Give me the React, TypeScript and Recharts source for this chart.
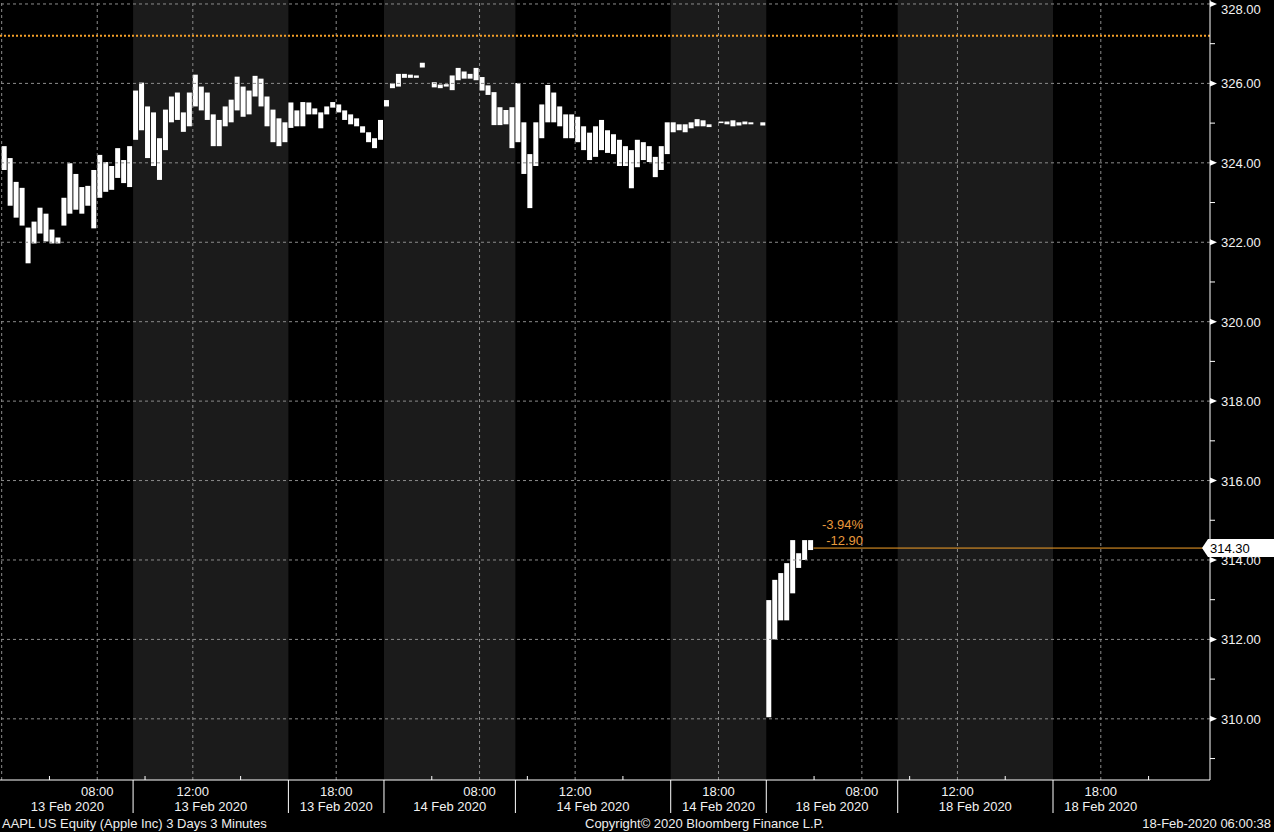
import { Bar, ComposedChart, ReferenceArea, ReferenceDot, ReferenceLine, XAxis, YAxis } from 'recharts';

// Time axis is compressed: each day runs 04:00-20:00 (16 h), hours counted from 13 Feb 04:00.
// null = no prints in that slice.
type Range = [number, number] | null;

const feb13Pre: Range[] = [
    [323.82, 324.42], [322.92, 324.12], [322.62, 323.52], [322.42, 323.37], [321.47, 322.37],
    [321.97, 322.52], [322.22, 322.87], [322.02, 322.72], [321.97, 322.32], [321.97, 322.12],
    [322.42, 323.12], [322.72, 323.99], [322.82, 323.72], [322.72, 323.39], [322.92, 323.42],
    [322.35, 323.82], [323.12, 324.2], [323.27, 324.02], [323.32, 323.92], [323.62, 324.37],
    [323.49, 324.07], [323.39, 324.42],
];
const feb13Reg: Range[] = [
    [324.58, 325.82], [324.82, 326.02], [324.12, 325.42], [323.92, 325.27], [323.57, 324.62],
    [324.32, 325.34], [325.02, 325.67], [325.08, 325.77], [324.78, 325.27], [324.92, 325.77],
    [325.42, 326.22], [325.32, 325.92], [325.08, 325.77], [324.42, 325.22], [324.42, 325.08],
    [324.92, 325.42], [325.02, 325.59], [325.32, 326.17], [325.16, 325.92], [325.22, 325.82],
    [325.67, 326.19], [325.42, 326.12], [324.92, 325.67], [324.52, 325.34], [324.42, 325.12],
    [324.52, 325.02],
];
const feb13Post: Range[] = [
    [324.88, 325.52], [324.92, 325.32], [324.92, 325.53], [325.22, 325.52], [325.22, 325.37],
    [324.87, 325.27], [325.22, 325.42], [325.39, 325.53], [325.27, 325.47], [325.08, 325.32],
    [324.97, 325.22], [324.92, 325.12], [324.76, 324.92], [324.52, 324.77], [324.37, 324.62],
    [324.58, 325.08],
];
const feb14Pre: Range[] = [
    [325.42, 325.58], [325.88, 326.0], [325.92, 326.24], [326.14, 326.24], [326.14, 326.22],
    [326.14, 326.2], [326.4, 326.52], null, [325.9, 326.03], [325.88, 325.97],
    [325.92, 325.98], [325.83, 326.2], [326.08, 326.39], [326.12, 326.3], [326.12, 326.24],
    [326.08, 326.39], [325.82, 326.16], [325.71, 325.95], [324.95, 325.78], [324.95, 325.4],
    [324.97, 325.33], [324.37, 325.4],
];
const feb14Reg: Range[] = [
    [324.52, 326.01], [323.72, 325.02], [322.86, 324.22], [323.92, 325.02], [324.62, 325.47],
    [325.02, 325.96], [325.02, 325.77], [324.92, 325.42], [324.62, 325.22], [324.62, 325.22],
    [324.52, 325.16], [324.32, 324.92], [324.07, 324.76], [324.15, 324.92], [324.32, 325.08],
    [324.25, 324.82], [324.22, 324.72], [323.92, 324.58], [323.92, 324.42], [323.36, 324.32],
    [323.89, 324.58], [324.07, 324.52], [324.02, 324.42], [323.64, 324.15], [323.82, 324.42],
    [324.22, 325.02],
];
const feb14Post: Range[] = [
    [324.77, 325.02], [324.82, 324.97], [324.77, 324.97], [324.87, 325.02], [324.92, 325.1],
    [324.92, 325.07], [324.9, 324.97], null, [325.0, 325.04], [324.97, 325.04],
    [324.92, 325.07], [324.94, 325.02], [324.97, 325.04], [324.97, 325.02], null,
    [324.94, 325.02],
];
const feb18Pre: Range[] = [
    [310.04, 312.99], [312.0, 313.5], [312.48, 313.67], [312.48, 313.92], [313.16, 314.5],
    [313.8, 314.17], [314.0, 314.5], [314.25, 314.5],
];

const sessionStarts = [0, 5.5, 12, 16, 21.5, 28, 32];
const sessionBars = [feb13Pre, feb13Reg, feb13Post, feb14Pre, feb14Reg, feb14Post, feb18Pre];
const slice = 0.25;

const lastPrice = 314.3;
const prevClose = 327.2;
const changeLabel = '-12.90';
const changePctLabel = '-3.94%';

const shadedSpans = [[5.5, 12], [16, 21.5], [28, 32], [37.5, 44]];
const timeLabels = [
    { t: 4, label: '08:00' }, { t: 8, label: '12:00' }, { t: 14, label: '18:00' },
    { t: 20, label: '08:00' }, { t: 24, label: '12:00' }, { t: 30, label: '18:00' },
    { t: 36, label: '08:00' }, { t: 40, label: '12:00' }, { t: 46, label: '18:00' },
];
const dateLabels = [
    { t: 2.75, label: '13 Feb 2020' }, { t: 8.75, label: '13 Feb 2020' }, { t: 14, label: '13 Feb 2020' },
    { t: 18.75, label: '14 Feb 2020' }, { t: 24.75, label: '14 Feb 2020' }, { t: 30, label: '14 Feb 2020' },
    { t: 34.75, label: '18 Feb 2020' }, { t: 40.75, label: '18 Feb 2020' }, { t: 46, label: '18 Feb 2020' },
];
const separators = [5.5, 12, 16, 21.5, 28, 32, 37.5, 44];
const minorTicks = [2, 6, 10, 18, 22, 26, 34, 38, 42, 48];
const priceTicks = [309, 310, 311, 312, 313, 314, 315, 316, 317, 318, 319, 320, 321, 322, 323, 324, 325, 326, 327, 328];
const priceGrid = [310, 312, 314, 316, 318, 320, 322, 324, 326, 328];

const xDomain: [number, number] = [-0.07, 50.57];
const yDomain: [number, number] = [308.46, 328.1];

const data = sessionBars.flatMap((bars, s) =>
    bars.map((range, i) => ({ t: sessionStarts[s] + i * slice + slice / 2, range }))
);
const lastT = data[data.length - 1].t;

const xTicks = Array.from(new Set([
    ...timeLabels.map((d) => d.t),
    ...dateLabels.map((d) => d.t),
    ...separators,
    ...minorTicks,
])).sort((a, b) => a - b);

const FONT = '"Liberation Sans", Arial, sans-serif';
const ORANGE = '#f5a028';

function XTick({ x, y, payload }: any) {
    const v = payload.value;
    const time = timeLabels.find((d) => d.t === v);
    const date = dateLabels.find((d) => d.t === v);
    return (
        <g>
            {separators.includes(v) && <line x1={x} x2={x} y1={y} y2={y + 33} stroke="#fff" />}
            {minorTicks.includes(v) && <line x1={x} x2={x} y1={y - 4} y2={y} stroke="#fff" />}
            {time && (
                <text x={x} y={y + 16} textAnchor="middle" fill="#f2f2f2" fontSize={13} fontFamily={FONT}>
                    {time.label}
                </text>
            )}
            {date && (
                <text x={x} y={y + 31} textAnchor="middle" fill="#f2f2f2" fontSize={13} fontFamily={FONT}>
                    {date.label}
                </text>
            )}
        </g>
    );
}

function YTick({ x, y, payload }: any) {
    const v = payload.value;
    if (v % 2 !== 0) {
        return <line x1={x} x2={x + 5} y1={y} y2={y} stroke="#fff" />;
    }
    return (
        <g>
            <polygon points={`${x},${y - 3} ${x + 7},${y} ${x},${y + 3}`} fill="#fff" />
            <text x={x + 11} y={Math.max(y + 5, 14)} fill="#f2f2f2" fontSize={13} fontFamily={FONT}>
                {v.toFixed(2)}
            </text>
        </g>
    );
}

function PriceBox({ cx, cy }: any) {
    return (
        <g>
            <polygon
                points={`${cx - 8},${cy} ${cx - 2},${cy - 9} ${cx + 64},${cy - 9} ${cx + 64},${cy + 9} ${cx - 2},${cy + 9}`}
                fill="#fff"
            />
            <text x={cx} y={cy + 5} fill="#000" fontSize={13} fontFamily={FONT}>
                {lastPrice.toFixed(2)}
            </text>
        </g>
    );
}

function ChangeLabels({ cx, cy }: any) {
    return (
        <g fontSize={13} fontFamily={FONT} fill="#e89a3c">
            <text x={cx + 52} y={cy - 19} textAnchor="end">{changePctLabel}</text>
            <text x={cx + 52} y={cy - 3} textAnchor="end">{changeLabel}</text>
        </g>
    );
}

function WhiteBar(props: any) {
    const { x, y, width, height } = props;
    if (x == null || y == null) return <g />;
    return <rect x={x} y={y} width={width} height={Math.max(height, 1)} fill="#fff" />;
}

const footStyle = { position: 'absolute' as const, top: 816, fontSize: 13, lineHeight: '15px', color: '#eee', fontFamily: FONT, whiteSpace: 'nowrap' as const };

export default function App() {
    return (
        <div style={{ position: 'fixed', left: 0, top: 0, width: 1274, height: 832, background: '#000', overflow: 'hidden' }}>
            <ComposedChart width={1274} height={832} data={data} margin={{ top: 0, right: 0, bottom: 0, left: 0 }}>
                <XAxis
                    dataKey="t"
                    type="number"
                    domain={xDomain}
                    allowDataOverflow
                    ticks={xTicks}
                    interval={0}
                    tick={<XTick />}
                    tickLine={false}
                    tickSize={0}
                    tickMargin={0}
                    height={52}
                    axisLine={{ stroke: '#fff' }}
                />
                <YAxis
                    orientation="right"
                    type="number"
                    domain={yDomain}
                    allowDataOverflow
                    ticks={priceTicks}
                    interval={0}
                    tick={<YTick />}
                    tickLine={false}
                    tickSize={0}
                    tickMargin={0}
                    width={64}
                    axisLine={{ stroke: '#fff' }}
                />
                {shadedSpans.map(([a, b]) => (
                    <ReferenceArea key={`s-${a}`} x1={a} x2={b} fill="#1b1b1b" fillOpacity={1} stroke="none" />
                ))}
                {priceGrid.map((v) => (
                    <ReferenceLine key={`h-${v}`} y={v} stroke="#8c8c8c" strokeDasharray="3 3" />
                ))}
                <ReferenceLine x={0} stroke="#8c8c8c" strokeDasharray="3 3" />
                {timeLabels.map((d) => (
                    <ReferenceLine key={`v-${d.t}`} x={d.t} stroke="#8c8c8c" strokeDasharray="3 3" />
                ))}
                <ReferenceLine y={prevClose} stroke={ORANGE} strokeWidth={2} strokeDasharray="2 2" />
                <Bar dataKey="range" barSize={5} isAnimationActive={false} shape={<WhiteBar />} />
                <ReferenceLine
                    segment={[{ x: lastT + 0.1, y: lastPrice }, { x: xDomain[1], y: lastPrice }]}
                    stroke={ORANGE}
                    strokeWidth={1}
                />
                <ReferenceDot x={lastT} y={lastPrice} r={0} ifOverflow="visible" shape={<ChangeLabels />} />
                <ReferenceDot x={xDomain[1]} y={lastPrice} r={0} ifOverflow="visible" shape={<PriceBox />} />
            </ComposedChart>
            <div style={{ ...footStyle, left: 2 }}>AAPL US Equity (Apple Inc) 3 Days 3 Minutes</div>
            <div style={{ ...footStyle, left: 585 }}>Copyright© 2020 Bloomberg Finance L.P.</div>
            <div style={{ ...footStyle, right: 3 }}>18-Feb-2020 06:00:38</div>
        </div>
    );
}
